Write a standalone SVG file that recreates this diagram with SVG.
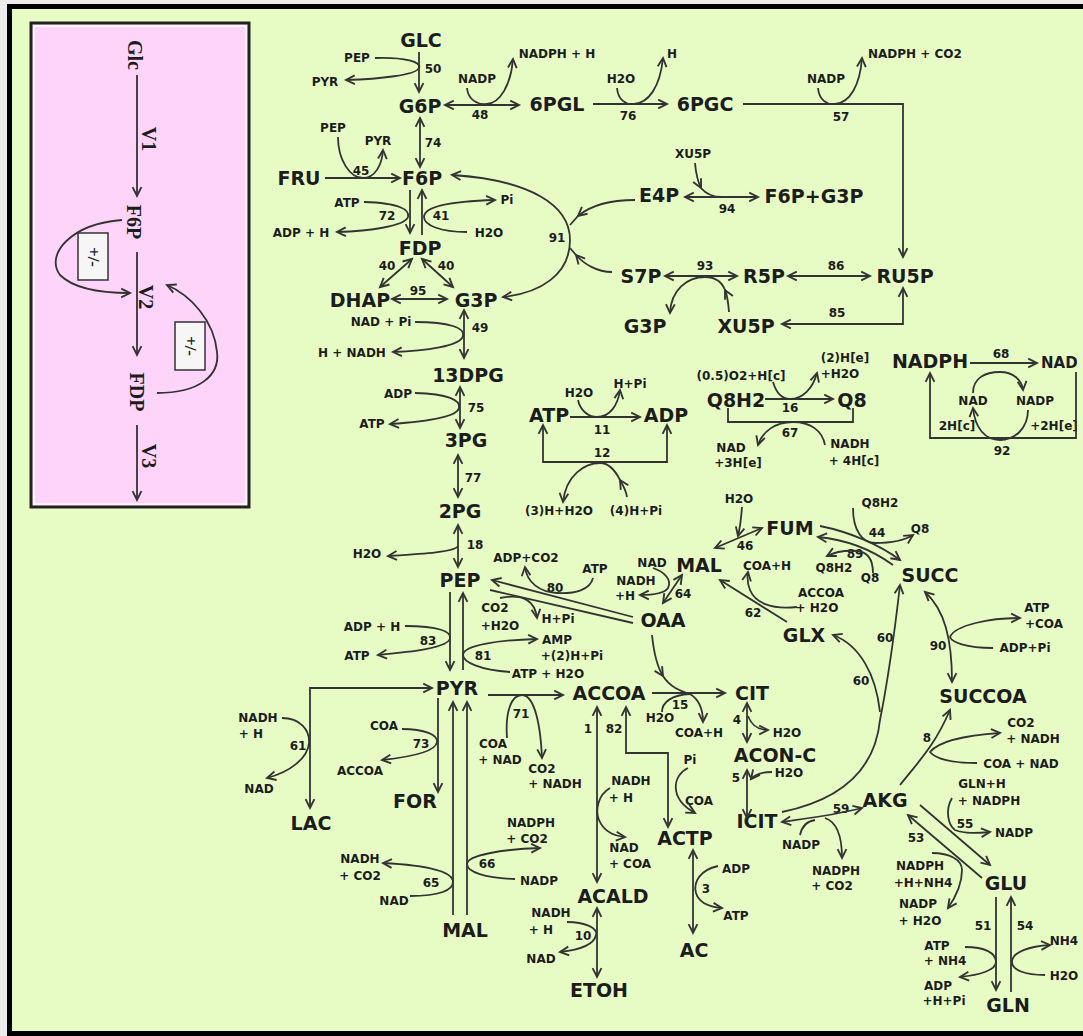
<svg xmlns="http://www.w3.org/2000/svg" width="1083" height="1036" viewBox="0 0 1083 1036">
<style>
.m{font-family:"DejaVu Sans","Liberation Sans",sans-serif;font-weight:bold;font-size:19px;fill:#1c1c1c;text-anchor:middle}
.s{font-family:"DejaVu Sans","Liberation Sans",sans-serif;font-weight:bold;font-size:12px;fill:#1c1c1c;text-anchor:middle}
.r{font-family:"Liberation Serif",serif;font-weight:bold;font-size:20px;fill:#1c1c1c;text-anchor:middle;dominant-baseline:central}
.c{fill:none;stroke:#333;stroke-width:1.8}
.e{marker-end:url(#a)}
.b{marker-start:url(#a);marker-end:url(#a)}
</style>
<defs>
<marker id="a" viewBox="0 0 10 10" refX="9" refY="5" markerWidth="11" markerHeight="11" markerUnits="userSpaceOnUse" orient="auto-start-reverse" overflow="visible">
<path d="M1,1 L9,5 L1,9" fill="none" stroke="#333" stroke-width="1.7"/>
</marker>
</defs>
<rect x="0" y="0" width="1083" height="1036" fill="#ececec"/>
<rect x="9.5" y="6.5" width="1085" height="1027" fill="#E7FCC5" stroke="#000" stroke-width="5"/>

<g id="inset">
<rect x="31" y="23" width="218" height="484" fill="#FFD4FA" stroke="#222" stroke-width="3"/>
<rect x="34" y="26" width="212" height="478" fill="none" stroke="#fff" stroke-width="1.5"/>
<g id="i-Glc"><text class="r" transform="rotate(90 135 55)" x="135" y="55">Glc</text></g>
<g id="i-F6P"><text class="r" transform="rotate(90 134 222)" x="134" y="222">F6P</text></g>
<g id="i-FDP"><text class="r" transform="rotate(90 137 392)" x="137" y="392">FDP</text></g>
<text class="r" transform="rotate(90 149 139)" x="149" y="139">V1</text>
<text class="r" transform="rotate(90 146 297)" x="146" y="297">V2</text>
<text class="r" transform="rotate(90 149 456)" x="149" y="456">V3</text>
<g id="i-box1"><rect x="78" y="233" width="30" height="47" fill="#f6f6f6" stroke="#333" stroke-width="1.5"/>
<text class="r" style="font-size:17px" transform="rotate(90 93 257)" x="93" y="257">+/-</text></g>
<g id="i-box2"><rect x="175" y="322" width="30" height="48" fill="#f6f6f6" stroke="#333" stroke-width="1.5"/>
<text class="r" style="font-size:17px" transform="rotate(90 190 346)" x="190" y="346">+/-</text></g>
<g id="i-edges">
<path class="c e" d="M137,75 L137,196"/>
<path class="c e" d="M137,252 L137,355"/>
<path class="c e" d="M137,425 L137,500"/>
<path class="c e" d="M122,220 C70,224 45,255 60,275 C75,290 105,293 130,293"/>
<path class="c e" d="M157,393 C200,393 220,375 217,352 C214,320 190,295 167,285"/>
</g>
</g>

<g id="nodes">
<g id="n-GLC"><text class="m" x="421" y="47">GLC</text></g>
<g id="n-G6P"><text class="m" x="420" y="113">G6P</text></g>
<g id="n-6PGL"><text class="m" x="557" y="111">6PGL</text></g>
<g id="n-6PGC"><text class="m" x="705" y="111">6PGC</text></g>
<g id="n-FRU"><text class="m" x="299" y="185">FRU</text></g>
<g id="n-F6P"><text class="m" x="422" y="185">F6P</text></g>
<g id="n-E4P"><text class="m" x="659" y="202">E4P</text></g>
<g id="n-F6PG3P"><text class="m" x="814" y="203">F6P+G3P</text></g>
<g id="n-FDP"><text class="m" x="420" y="255">FDP</text></g>
<g id="n-S7P"><text class="m" x="641" y="283">S7P</text></g>
<g id="n-R5P"><text class="m" x="764" y="283">R5P</text></g>
<g id="n-RU5P"><text class="m" x="905" y="283">RU5P</text></g>
<g id="n-DHAP"><text class="m" x="360" y="307">DHAP</text></g>
<g id="n-G3P"><text class="m" x="476" y="307">G3P</text></g>
<g id="n-G3P-2"><text class="m" x="645" y="333">G3P</text></g>
<g id="n-XU5P"><text class="m" x="746" y="333">XU5P</text></g>
<g id="n-NADPH"><text class="m" x="930" y="368">NADPH</text></g>
<g id="n-NAD"><text class="m" x="1041" y="368" style="text-anchor:start;font-size:15px">NAD</text></g>
<g id="n-13DPG"><text class="m" x="468" y="382">13DPG</text></g>
<g id="n-Q8H2"><text class="m" x="736" y="407">Q8H2</text></g>
<g id="n-Q8"><text class="m" x="852" y="407">Q8</text></g>
<g id="n-ATP"><text class="m" x="549" y="422">ATP</text></g>
<g id="n-ADP"><text class="m" x="666" y="422">ADP</text></g>
<g id="n-3PG"><text class="m" x="466" y="447">3PG</text></g>
<g id="n-2PG"><text class="m" x="460" y="518">2PG</text></g>
<g id="n-FUM"><text class="m" x="790" y="535">FUM</text></g>
<g id="n-MAL"><text class="m" x="699" y="572">MAL</text></g>
<g id="n-PEP"><text class="m" x="460" y="587">PEP</text></g>
<g id="n-SUCC"><text class="m" x="930" y="582">SUCC</text></g>
<g id="n-OAA"><text class="m" x="663" y="627">OAA</text></g>
<g id="n-GLX"><text class="m" x="804" y="642">GLX</text></g>
<g id="n-PYR"><text class="m" x="457" y="695">PYR</text></g>
<g id="n-ACCOA"><text class="m" x="609" y="700">ACCOA</text></g>
<g id="n-CIT"><text class="m" x="752" y="700">CIT</text></g>
<g id="n-SUCCOA"><text class="m" x="983" y="703">SUCCOA</text></g>
<g id="n-ACONC"><text class="m" x="775" y="762">ACON-C</text></g>
<g id="n-AKG"><text class="m" x="885" y="807">AKG</text></g>
<g id="n-FOR"><text class="m" x="415" y="808">FOR</text></g>
<g id="n-LAC"><text class="m" x="311" y="830">LAC</text></g>
<g id="n-ICIT"><text class="m" x="757" y="828">ICIT</text></g>
<g id="n-ACTP"><text class="m" x="685" y="845">ACTP</text></g>
<g id="n-GLU"><text class="m" x="1006" y="890">GLU</text></g>
<g id="n-ACALD"><text class="m" x="613" y="903">ACALD</text></g>
<g id="n-MAL-2"><text class="m" x="465" y="937">MAL</text></g>
<g id="n-AC"><text class="m" x="694" y="957">AC</text></g>
<g id="n-ETOH"><text class="m" x="599" y="997">ETOH</text></g>
<g id="n-GLN"><text class="m" x="1008" y="1012">GLN</text></g>
</g>

<g id="labels">
<text class="s" x="357" y="62">PEP</text>
<text class="s" x="325" y="86">PYR</text>
<text class="s" x="433" y="73">50</text>
<text class="s" x="477" y="83">NADP</text>
<text class="s" x="557" y="58">NADPH + H</text>
<text class="s" x="480" y="119">48</text>
<text class="s" x="621" y="83">H2O</text>
<text class="s" x="672" y="58">H</text>
<text class="s" x="628" y="120">76</text>
<text class="s" x="826" y="83">NADP</text>
<text class="s" x="868" y="58" style="text-anchor:start">NADPH + CO2</text>
<text class="s" x="841" y="121">57</text>
<text class="s" x="333" y="132">PEP</text>
<text class="s" x="378" y="145">PYR</text>
<text class="s" x="433" y="147">74</text>
<text class="s" x="361" y="175">45</text>
<text class="s" x="693" y="158">XU5P</text>
<text class="s" x="727" y="213">94</text>
<text class="s" x="347" y="207">ATP</text>
<text class="s" x="507" y="204">Pi</text>
<text class="s" x="387" y="220">72</text>
<text class="s" x="441" y="220">41</text>
<text class="s" x="301" y="237">ADP + H</text>
<text class="s" x="489" y="237">H2O</text>
<text class="s" x="557" y="242">91</text>
<text class="s" x="387" y="270">40</text>
<text class="s" x="446" y="270">40</text>
<text class="s" x="705" y="270">93</text>
<text class="s" x="836" y="270">86</text>
<text class="s" x="418" y="295">95</text>
<text class="s" x="837" y="317">85</text>
<text class="s" x="381" y="326">NAD + Pi</text>
<text class="s" x="480" y="332">49</text>
<text class="s" x="352" y="357">H + NADH</text>
<text class="s" x="1001" y="358">68</text>
<text class="s" x="845" y="362">(2)H[e]</text>
<text class="s" x="840" y="378">+H2O</text>
<text class="s" x="741" y="380">(0.5)O2+H[c]</text>
<text class="s" x="579" y="397">H2O</text>
<text class="s" x="630" y="388">H+Pi</text>
<text class="s" x="398" y="398">ADP</text>
<text class="s" x="973" y="405">NAD</text>
<text class="s" x="1035" y="405">NADP</text>
<text class="s" x="790" y="412">16</text>
<text class="s" x="476" y="412">75</text>
<text class="s" x="372" y="428">ATP</text>
<text class="s" x="602" y="434">11</text>
<text class="s" x="957" y="430">2H[c]</text>
<text class="s" x="1054" y="430">+2H[e]</text>
<text class="s" x="790" y="437">67</text>
<text class="s" x="850" y="448">NADH</text>
<text class="s" x="854" y="465">+ 4H[c]</text>
<text class="s" x="731" y="452">NAD</text>
<text class="s" x="738" y="467">+3H[e]</text>
<text class="s" x="1002" y="455">92</text>
<text class="s" x="602" y="457">12</text>
<text class="s" x="473" y="482">77</text>
<text class="s" x="739" y="503">H2O</text>
<text class="s" x="880" y="507">Q8H2</text>
<text class="s" x="559" y="515">(3)H+H2O</text>
<text class="s" x="636" y="515">(4)H+Pi</text>
<text class="s" x="920" y="533">Q8</text>
<text class="s" x="877" y="537">44</text>
<text class="s" x="475" y="549">18</text>
<text class="s" x="745" y="550">46</text>
<text class="s" x="367" y="558">H2O</text>
<text class="s" x="855" y="558">89</text>
<text class="s" x="526" y="562">ADP+CO2</text>
<text class="s" x="652" y="567">NAD</text>
<text class="s" x="767" y="570">COA+H</text>
<text class="s" x="834" y="572">Q8H2</text>
<text class="s" x="595" y="573">ATP</text>
<text class="s" x="870" y="582">Q8</text>
<text class="s" x="636" y="585">NADH</text>
<text class="s" x="625" y="600">+H</text>
<text class="s" x="555" y="592">80</text>
<text class="s" x="821" y="597">ACCOA</text>
<text class="s" x="817" y="612">+ H2O</text>
<text class="s" x="683" y="598">64</text>
<text class="s" x="495" y="612">CO2</text>
<text class="s" x="500" y="630">+H2O</text>
<text class="s" x="1037" y="612">ATP</text>
<text class="s" x="1044" y="628">+COA</text>
<text class="s" x="753" y="617">62</text>
<text class="s" x="558" y="623">H+Pi</text>
<text class="s" x="372" y="631">ADP + H</text>
<text class="s" x="885" y="642">60</text>
<text class="s" x="557" y="644">AMP</text>
<text class="s" x="428" y="645">83</text>
<text class="s" x="938" y="650">90</text>
<text class="s" x="1025" y="652">ADP+Pi</text>
<text class="s" x="357" y="660">ATP</text>
<text class="s" x="483" y="660">81</text>
<text class="s" x="572" y="660">+(2)H+Pi</text>
<text class="s" x="548" y="678">ATP + H2O</text>
<text class="s" x="861" y="685">60</text>
<text class="s" x="680" y="709">15</text>
<text class="s" x="521" y="718">71</text>
<text class="s" x="258" y="722">NADH</text>
<text class="s" x="251" y="738">+ H</text>
<text class="s" x="660" y="722">H2O</text>
<text class="s" x="1021" y="727">CO2</text>
<text class="s" x="1033" y="743">+ NADH</text>
<text class="s" x="384" y="730">COA</text>
<text class="s" x="737" y="724">4</text>
<text class="s" x="588" y="733">1</text>
<text class="s" x="614" y="733">82</text>
<text class="s" x="699" y="737">COA+H</text>
<text class="s" x="787" y="737">H2O</text>
<text class="s" x="927" y="742">8</text>
<text class="s" x="493" y="748">COA</text>
<text class="s" x="500" y="764">+ NAD</text>
<text class="s" x="421" y="748">73</text>
<text class="s" x="298" y="750">61</text>
<text class="s" x="690" y="764">Pi</text>
<text class="s" x="1021" y="768">COA + NAD</text>
<text class="s" x="542" y="773">CO2</text>
<text class="s" x="555" y="788">+ NADH</text>
<text class="s" x="789" y="777">H2O</text>
<text class="s" x="360" y="775">ACCOA</text>
<text class="s" x="736" y="782">5</text>
<text class="s" x="631" y="785">NADH</text>
<text class="s" x="621" y="802">+ H</text>
<text class="s" x="982" y="788">GLN+H</text>
<text class="s" x="989" y="805">+ NADPH</text>
<text class="s" x="259" y="793">NAD</text>
<text class="s" x="699" y="805">COA</text>
<text class="s" x="841" y="813">59</text>
<text class="s" x="531" y="827">NADPH</text>
<text class="s" x="527" y="843">+ CO2</text>
<text class="s" x="965" y="828">55</text>
<text class="s" x="1014" y="837">NADP</text>
<text class="s" x="916" y="842">53</text>
<text class="s" x="801" y="849">NADP</text>
<text class="s" x="624" y="852">NAD</text>
<text class="s" x="630" y="868">+ COA</text>
<text class="s" x="360" y="863">NADH</text>
<text class="s" x="360" y="880">+ CO2</text>
<text class="s" x="487" y="868">66</text>
<text class="s" x="920" y="870">NADPH</text>
<text class="s" x="923" y="887">+H+NH4</text>
<text class="s" x="836" y="875">NADPH</text>
<text class="s" x="832" y="890">+ CO2</text>
<text class="s" x="539" y="885">NADP</text>
<text class="s" x="431" y="887">65</text>
<text class="s" x="706" y="893">3</text>
<text class="s" x="394" y="905">NAD</text>
<text class="s" x="918" y="908">NADP</text>
<text class="s" x="920" y="925">+ H2O</text>
<text class="s" x="736" y="873">ADP</text>
<text class="s" x="736" y="920">ATP</text>
<text class="s" x="551" y="917">NADH</text>
<text class="s" x="541" y="934">+ H</text>
<text class="s" x="983" y="930">51</text>
<text class="s" x="1025" y="930">54</text>
<text class="s" x="583" y="940">10</text>
<text class="s" x="1064" y="945">NH4</text>
<text class="s" x="937" y="950">ATP</text>
<text class="s" x="945" y="965">+ NH4</text>
<text class="s" x="541" y="963">NAD</text>
<text class="s" x="1064" y="980">H2O</text>
<text class="s" x="938" y="990">ADP</text>
<text class="s" x="944" y="1005">+H+Pi</text>
</g>

<g id="connectors">
<path class="c e" d="M419,52 L419,92"/>
<path class="c e" d="M375,58 C405,57 422,62 419,68 C416,75 380,79 346,80"/>
<path class="c b" d="M445,105 L519,105"/>
<path class="c e" d="M467,88 C468,100 478,105 487,104 C500,103 511,85 513,59"/>
<path class="c e" d="M593,104 L667,104"/>
<path class="c e" d="M617,88 C618,100 626,105 634,104 C648,103 660,88 663,58"/>
<path class="c e" d="M743,104 L903,104 L903,257"/>
<path class="c e" d="M818,88 C819,100 827,105 835,104 C850,103 860,85 862,58"/>
<path class="c b" d="M420,118 L420,167"/>
<path class="c e" d="M325,178 L400,178"/>
<path class="c e" d="M338,137 C338,160 350,178 363,178 C375,178 382,165 383,150"/>
<path class="c e" d="M410,190 L410,233"/>
<path class="c e" d="M422,235 L422,190"/>
<path class="c e" d="M364,202 C400,203 410,210 408,217 C405,226 370,231 337,232"/>
<path class="c e" d="M467,232 C440,232 424,225 424,217 C424,205 460,201 495,200"/>
<path class="c b" d="M412,259 L380,287"/>
<path class="c b" d="M422,259 L453,287"/>
<path class="c b" d="M392,299 L447,299"/>
<path class="c b" d="M452,175 C530,180 570,205 570,240 C570,275 540,293 503,297"/>
<path class="c e" d="M635,200 C608,200 590,206 578,216"/>
<path class="c" d="M578,216 L570,225"/>
<path class="c e" d="M612,272 C597,272 584,264 576,255"/>
<path class="c" d="M576,255 L570,248"/>
<path class="c b" d="M685,197 L758,197"/>
<path class="c e" d="M695,163 C696,175 698,182 701,188"/>
<path class="c" d="M701,188 C706,194 713,197 722,197"/>
<path class="c b" d="M665,276 L737,276"/>
<path class="c b" d="M788,276 L870,276"/>
<path class="c e" d="M729,312 C728,300 727,294 725,290"/>
<path class="c e" d="M725,290 C721,280 714,277 705,277 C687,277 671,290 670,313"/>
<path class="c b" d="M903,288 L903,324 L782,324"/>
<path class="c b" d="M464,310 L464,358"/>
<path class="c e" d="M415,322 C450,322 465,328 463,336 C461,346 425,351 393,352"/>
<path class="c b" d="M460,387 L460,428"/>
<path class="c e" d="M415,393 C448,394 461,400 459,408 C457,418 420,422 390,424"/>
<path class="c b" d="M458,455 L458,497"/>
<path class="c b" d="M458,525 L458,567"/>
<path class="c e" d="M458,546 C456,552 420,554 388,556"/>
<path class="c e" d="M450,592 L450,670"/>
<path class="c e" d="M463,670 L463,593"/>
<path class="c e" d="M405,626 C440,626 451,632 450,638 C449,648 410,652 378,655"/>
<path class="c e" d="M510,672 C480,670 463,662 463,655 C463,645 500,640 537,639"/>
<path class="c e" d="M633,617 L492,580"/>
<path class="c" d="M490,590 L633,623"/>
<path class="c e" d="M593,578 C590,590 575,594 557,593 C540,592 527,583 525,567"/>
<path class="c e" d="M500,598 C525,593 535,602 537,618"/>
<path class="c b" d="M682,575 L663,603"/>
<path class="c e" d="M653,568 C665,572 672,580 668,588 C664,594 652,595 640,595"/>
<path class="c e" d="M652,635 C654,655 658,668 663,676"/>
<path class="c e" d="M663,676 C670,687 680,691 690,694 C700,700 703,710 703,722"/>
<path class="c" d="M662,712 C662,702 672,695 690,694"/>
<path class="c e" d="M488,695 L563,695"/>
<path class="c e" d="M652,693 L725,693"/>
<path class="c e" d="M507,738 C505,710 512,695 522,695 C532,695 540,715 542,758"/>
<path class="c b" d="M747,703 L747,742"/>
<path class="c e" d="M748,716 C752,726 758,730 768,730"/>
<path class="c b" d="M747,770 L747,818"/>
<path class="c e" d="M772,772 C762,772 755,774 751,779"/>
<path class="c b" d="M597,707 L597,882"/>
<path class="c b" d="M626,707 L626,753 L668,753 L668,827"/>
<path class="c e" d="M610,788 C598,795 595,810 599,820 C604,832 615,836 625,837"/>
<path class="c e" d="M688,768 C673,775 668,798 695,813"/>
<path class="c b" d="M693,850 L693,933"/>
<path class="c e" d="M718,866 C700,870 693,882 696,893 C699,903 710,907 722,908"/>
<path class="c b" d="M597,908 L597,977"/>
<path class="c e" d="M567,922 C585,922 598,928 596,935 C594,945 578,950 560,952"/>
<path class="c b" d="M432,688 L310,688 L310,808"/>
<path class="c e" d="M282,718 C300,718 310,730 309,743 C308,758 290,772 267,778"/>
<path class="c e" d="M438,698 L438,792"/>
<path class="c e" d="M402,729 C425,729 438,735 437,742 C436,752 410,757 382,760"/>
<path class="c e" d="M453,915 L453,702"/>
<path class="c e" d="M467,915 L467,702"/>
<path class="c e" d="M410,896 C440,896 453,890 453,882 C453,870 420,865 383,863"/>
<path class="c e" d="M515,879 C485,878 467,872 467,864 C467,855 505,849 540,848"/>
<path class="c e" d="M570,417 L640,417"/>
<path class="c e" d="M578,400 C580,410 588,417 597,417 C610,417 618,405 620,390"/>
<path class="c b" d="M543,425 L543,462 L667,462 L667,425"/>
<path class="c e" d="M627,497 C626,490 623,485 620,480"/>
<path class="c e" d="M620,480 C614,468 608,463 600,463 C585,463 566,475 563,502"/>
<path class="c e" d="M765,399 L833,399"/>
<path class="c e" d="M773,382 C776,392 782,399 790,399 C803,399 813,388 817,373"/>
<path class="c" d="M728,408 L728,422 L853,422 L853,408"/>
<path class="c e" d="M825,445 C822,430 810,422 793,422 C775,422 762,432 758,445"/>
<path class="c e" d="M970,363 L1037,363"/>
<path class="c e" d="M973,393 C973,378 985,372 1000,372 C1013,372 1022,380 1023,390"/>
<path class="c e" d="M1076,372 L1076,438 L930,438 L930,373"/>
<path class="c e" d="M1028,410 C1028,428 1015,440 1000,440 C985,440 975,428 973,408"/>
<path class="c b" d="M715,548 L762,528"/>
<path class="c e" d="M742,507 C741,520 740,528 738,536"/>
<path class="c e" d="M820,526 C850,532 880,545 900,560"/>
<path class="c e" d="M893,565 C875,552 850,540 818,537"/>
<path class="c e" d="M853,508 C853,530 862,543 875,543 C890,543 905,540 913,535"/>
<path class="c e" d="M873,573 C873,560 868,552 857,551 C845,550 835,552 827,556"/>
<path class="c e" d="M787,622 L720,580"/>
<path class="c e" d="M797,607 C770,610 755,602 750,590 C747,583 747,578 748,572"/>
<path class="c" d="M782,812 C840,800 875,770 880,720"/>
<path class="c e" d="M880,720 C888,680 896,620 900,585"/>
<path class="c e" d="M880,712 C876,675 860,645 833,635"/>
<path class="c b" d="M925,592 C945,610 952,640 952,682"/>
<path class="c e" d="M993,648 C965,648 952,642 950,637 C955,625 990,618 1020,618"/>
<path class="c e" d="M900,785 C920,760 935,745 950,710"/>
<path class="c e" d="M977,763 C950,763 935,758 930,752 C940,740 970,735 1000,733"/>
<path class="c b" d="M782,822 C810,818 835,815 862,808"/>
<path class="c" d="M800,835 C802,826 808,821 815,820"/>
<path class="c e" d="M825,818 C837,822 842,835 842,858"/>
<path class="c e" d="M920,805 L990,865"/>
<path class="c e" d="M952,798 C945,810 948,825 955,830 C965,834 978,833 990,832"/>
<path class="c e" d="M982,878 L908,815"/>
<path class="c e" d="M932,853 C950,853 962,860 962,870 C962,885 955,898 948,908"/>
<path class="c e" d="M996,897 L996,990"/>
<path class="c e" d="M1011,992 L1011,897"/>
<path class="c e" d="M965,947 C985,947 996,953 996,962 C996,970 980,975 960,977"/>
<path class="c e" d="M1045,975 C1025,975 1012,970 1012,962 C1012,952 1030,946 1050,945"/>
</g>
</svg>
